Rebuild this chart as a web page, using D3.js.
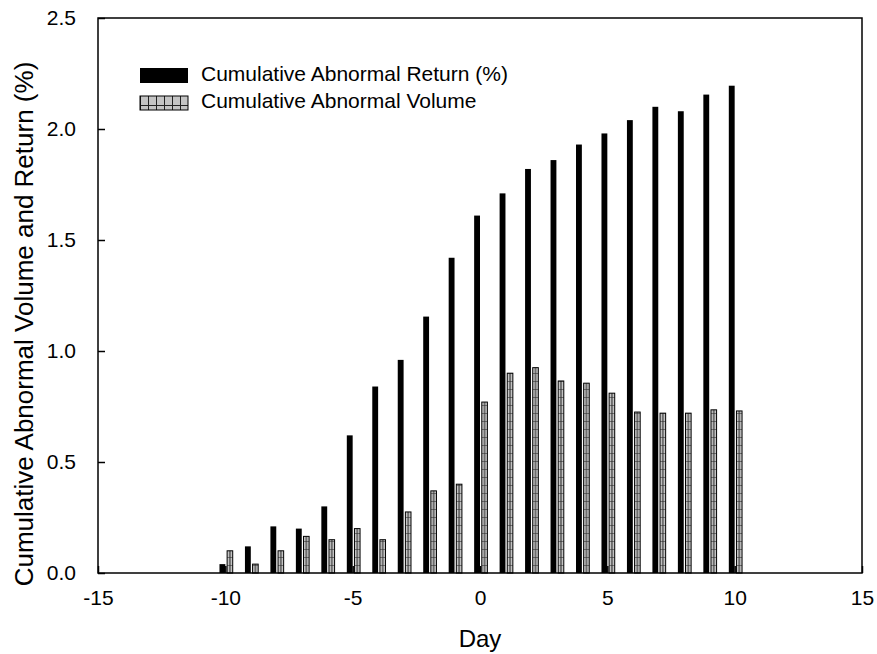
<!DOCTYPE html>
<html>
<head>
<meta charset="utf-8">
<script src="https://cdn.jsdelivr.net/npm/d3@7"></script>
<style>
  body { margin: 0; background: #fff; }
  text { font-family: "Liberation Sans", Arial, sans-serif; fill: #000; }
</style>
</head>
<body>
<div id="vis"></div>
<script>
const width = 877;
const height = 654;
const margin = { top: 18, right: 15, bottom: 81, left: 98 };

// Event window days
const days = [-10, -9, -8, -7, -6, -5, -4, -3, -2, -1, 0, 1, 2, 3, 4, 5, 6, 7, 8, 9, 10];
// Cumulative abnormal return (%)
const returnValues = [0.04, 0.12, 0.21, 0.20, 0.30, 0.62, 0.84, 0.96, 1.155, 1.42, 1.61,
                      1.71, 1.82, 1.86, 1.93, 1.98, 2.04, 2.10, 2.08, 2.155, 2.195];
// Cumulative abnormal volume
const volumeValues = [0.10, 0.04, 0.10, 0.165, 0.15, 0.20, 0.15, 0.275, 0.37, 0.40, 0.77,
                      0.90, 0.925, 0.865, 0.855, 0.81, 0.725, 0.72, 0.72, 0.735, 0.73];

const xTicks = [-15, -10, -5, 0, 5, 10, 15];
const yTicks = [0, 0.5, 1.0, 1.5, 2.0, 2.5];
const seriesNames = ["Cumulative Abnormal Return (%)", "Cumulative Abnormal Volume"];

const innerW = width - margin.left - margin.right;
const innerH = height - margin.top - margin.bottom;

const x = d3.scaleLinear().domain([-15, 15]).range([0, innerW]);
const y = d3.scaleLinear().domain([0, 2.5]).range([innerH, 0]);

const svg = d3.select("#vis").append("svg")
    .attr("width", width)
    .attr("height", height);

// Grid fill for the volume bars
const volW = x(0.29) - x(0.07);
const defs = svg.append("defs");
const pat = defs.append("pattern")
    .attr("id", "gridBar")
    .attr("patternUnits", "userSpaceOnUse")
    .attr("width", volW).attr("height", 8);
pat.append("rect").attr("width", volW).attr("height", 8).attr("fill", "#c4c4c4");
pat.append("line").attr("x1", 0).attr("x2", volW).attr("y1", 0).attr("y2", 0)
    .attr("stroke", "#222").attr("stroke-width", 1);
pat.append("line").attr("x1", volW / 2).attr("x2", volW / 2).attr("y1", 0).attr("y2", 8)
    .attr("stroke", "#222").attr("stroke-width", 1);

const patL = defs.append("pattern")
    .attr("id", "gridLegend")
    .attr("patternUnits", "userSpaceOnUse")
    .attr("width", 8).attr("height", 15);
patL.append("rect").attr("width", 8).attr("height", 15).attr("fill", "#c4c4c4");
patL.append("line").attr("x1", 0).attr("x2", 8).attr("y1", 7.5).attr("y2", 7.5)
    .attr("stroke", "#222");
patL.append("line").attr("x1", 0.5).attr("x2", 0.5).attr("y1", 0).attr("y2", 15)
    .attr("stroke", "#222");

const g = svg.append("g").attr("transform", `translate(${margin.left},${margin.top})`);

const data = days.map((d, i) => ({ day: d, ret: returnValues[i], vol: volumeValues[i] }));

// Return bars (solid black, left of the day)
g.append("g")
    .selectAll("rect")
    .data(data)
    .enter().append("rect")
    .attr("x", d => x(d.day - 0.23))
    .attr("width", x(0) - x(-0.23))
    .attr("y", d => y(d.ret))
    .attr("height", d => innerH - y(d.ret))
    .attr("fill", "#000");

// Volume bars (grid pattern, right of the day)
const vol = g.append("g")
    .selectAll("g")
    .data(data)
    .enter().append("g")
    .attr("transform", d => `translate(${x(d.day + 0.07)},${innerH})`);

vol.append("rect")
    .attr("x", 0)
    .attr("width", volW)
    .attr("y", d => y(d.vol) - innerH)
    .attr("height", d => innerH - y(d.vol))
    .attr("fill", "url(#gridBar)")
    .attr("stroke", "#000")
    .attr("stroke-width", 1);

// Axes with inward ticks
const xAxis = g.append("g")
    .attr("transform", `translate(0,${innerH})`)
    .call(d3.axisBottom(x).tickValues(xTicks).tickSize(-7).tickPadding(17)
        .tickFormat(d3.format("d")));
const yAxis = g.append("g")
    .call(d3.axisLeft(y).tickValues(yTicks).tickSize(-7).tickPadding(22)
        .tickFormat(d3.format(".1f")));

[xAxis, yAxis].forEach(a => {
    a.select(".domain").remove();
    a.selectAll("line").attr("stroke", "#000").attr("stroke-width", 1.5);
    a.selectAll("text").style("font-size", "21px").attr("fill", "#000");
});
xAxis.selectAll("text").text(d => d < 0 ? "-" + Math.abs(d) : d);

// Frame
g.append("rect")
    .attr("width", innerW)
    .attr("height", innerH)
    .attr("fill", "none")
    .attr("stroke", "#000")
    .attr("stroke-width", 1.5);

// Axis titles
svg.append("text")
    .attr("x", margin.left + x(0))
    .attr("y", 647)
    .attr("text-anchor", "middle")
    .style("font-size", "24px")
    .text("Day");

svg.append("text")
    .attr("transform", "translate(33,324) rotate(-90)")
    .attr("text-anchor", "middle")
    .style("font-size", "26px")
    .text("Cumulative Abnormal Volume and Return (%)");

// Legend
const legend = svg.append("g").attr("transform", "translate(140,68)");
legend.append("rect").attr("x", 0).attr("y", 0).attr("width", 48).attr("height", 15)
    .attr("fill", "#000");
legend.append("rect").attr("x", 0).attr("y", 28).attr("width", 48).attr("height", 14)
    .attr("fill", "url(#gridLegend)").attr("stroke", "#000");
legend.selectAll("text.lab")
    .data(seriesNames)
    .enter().append("text")
    .attr("class", "lab")
    .attr("x", 61)
    .attr("y", (d, i) => 13 + i * 26.5)
    .style("font-size", "21px")
    .text(d => d);
</script>
</body>
</html>
